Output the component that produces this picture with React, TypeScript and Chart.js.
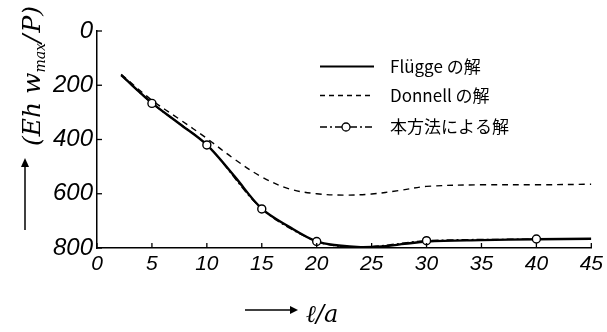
import React, { useEffect, useRef } from "react";
import { Chart, registerables } from "chart.js";
Chart.register(...registerables);

const fluggeX = [2.2, 5, 7.5, 10, 12.5, 15, 17.5, 20, 22, 24, 26, 28, 30, 35, 40, 45];
const fluggeY = [163, 265, 342, 420, 535, 655, 722, 776, 791, 797, 794, 785, 776, 771, 768, 766];
const donnellX = [2.2, 5, 7.5, 10, 12.5, 15, 17.5, 20, 22.5, 25, 27.5, 30, 35, 40, 45];
const donnellY = [160, 255, 325, 396, 472, 538, 582, 600, 605, 601, 588, 573, 567, 567, 565];
const methodX = [2.2, 5, 10, 15, 20, 24, 30, 40, 45];
const methodY = [163, 267, 420, 656, 776, 797, 773, 767, 766];
const methodMarker = [0, 4, 4, 4, 4, 0, 4, 4, 0];
const legendLabels = ["Flügge の解", "Donnell の解", "本方法による解"];
const xTitle = "ℓ/a";

const toPts = (xs: number[], ys: number[]) => xs.map((x, i) => ({ x, y: ys[i] }));

const decorPlugin = {
  id: "decor",
  afterDraw(chart: any) {
    const ctx = chart.ctx;
    const xs = chart.scales.x;
    const ys = chart.scales.y;
    const area = chart.chartArea;
    ctx.save();
    ctx.strokeStyle = "#000";
    ctx.fillStyle = "#000";
    ctx.lineWidth = 1.3;
    xs.ticks.forEach((t: any) => {
      const px = xs.getPixelForValue(t.value);
      ctx.beginPath();
      ctx.moveTo(px, area.bottom);
      ctx.lineTo(px, area.bottom - 5);
      ctx.stroke();
    });
    ys.ticks.forEach((t: any) => {
      const py = ys.getPixelForValue(t.value);
      ctx.beginPath();
      ctx.moveTo(area.left, py);
      ctx.lineTo(area.left + 5, py);
      ctx.stroke();
    });

    const rows = [66.5, 95.5, 127];
    const styles = [
      { w: 2, dash: [] as number[] },
      { w: 1.4, dash: [5, 4] },
      { w: 1.3, dash: [7, 3, 2, 3] },
    ];
    ctx.font = '17px "Noto Sans CJK JP", sans-serif';
    ctx.textBaseline = "middle";
    ctx.textAlign = "left";
    rows.forEach((ry, i) => {
      ctx.lineWidth = styles[i].w;
      ctx.setLineDash(styles[i].dash);
      ctx.beginPath();
      ctx.moveTo(320, ry);
      ctx.lineTo(374, ry);
      ctx.stroke();
      ctx.setLineDash([]);
      if (i === 2) {
        ctx.beginPath();
        ctx.fillStyle = "#fff";
        ctx.arc(346, ry, 4, 0, Math.PI * 2);
        ctx.fill();
        ctx.lineWidth = 1.3;
        ctx.stroke();
        ctx.fillStyle = "#000";
      }
      ctx.fillText(legendLabels[i], 390, ry);
    });

    ctx.lineWidth = 1.5;
    ctx.beginPath();
    ctx.moveTo(245, 310);
    ctx.lineTo(296, 310);
    ctx.stroke();
    ctx.beginPath();
    ctx.moveTo(298, 310);
    ctx.lineTo(290, 306);
    ctx.lineTo(290, 314);
    ctx.closePath();
    ctx.fill();
    ctx.font = 'italic 24px "DejaVu Serif", serif';
    ctx.textBaseline = "alphabetic";
    ctx.fillText(xTitle, 306, 322);

    ctx.beginPath();
    ctx.moveTo(25, 230);
    ctx.lineTo(25, 162);
    ctx.stroke();
    ctx.beginPath();
    ctx.moveTo(25, 158);
    ctx.lineTo(21, 167);
    ctx.lineTo(29, 167);
    ctx.closePath();
    ctx.fill();

    ctx.translate(40, 146);
    ctx.rotate(-Math.PI / 2);
    let cx = 0;
    const big = 'italic 25px "DejaVu Serif", serif';
    const small = 'italic 14px "DejaVu Serif", serif';
    const parts: [string, string, number][] = [
      ["(Eh w", big, 0],
      ["max", small, 5],
      ["/", big, 0],
      ["P)", big, 0],
    ];
    parts.forEach(([s, f, dy]) => {
      ctx.font = f;
      ctx.fillText(s, cx, dy);
      cx += ctx.measureText(s).width + (s === "/" ? 2 : 0);
    });
    ctx.restore();
  },
};

export default function App() {
  const ref = useRef<HTMLCanvasElement>(null);
  useEffect(() => {
    if (!ref.current) return;
    const tickFontX = { family: '"Liberation Sans", sans-serif', size: 21, style: "italic" as const };
    const tickFontY = { family: '"Liberation Sans", sans-serif', size: 24, style: "italic" as const };
    const chart = new Chart(ref.current, {
      type: "line",
      data: {
        datasets: [
          {
            label: legendLabels[1],
            data: toPts(donnellX, donnellY),
            borderColor: "#000",
            borderWidth: 1.4,
            borderDash: [6, 5],
            pointRadius: 0,
            tension: 0.35,
            fill: false,
          },
          {
            label: legendLabels[2],
            data: toPts(methodX, methodY),
            borderColor: "#000",
            borderWidth: 1.3,
            borderDash: [7, 3, 2, 3],
            pointRadius: methodMarker,
            pointBackgroundColor: "#fff",
            pointBorderColor: "#000",
            pointBorderWidth: 1.4,
            tension: 0.3,
            fill: false,
          },
          {
            label: legendLabels[0],
            data: toPts(fluggeX, fluggeY),
            borderColor: "#000",
            borderWidth: 2.4,
            pointRadius: 0,
            tension: 0.35,
            fill: false,
          },
        ],
      },
      options: {
        responsive: false,
        animation: false,
        layout: { padding: { left: 0, right: 15, top: 31, bottom: 0 } },
        plugins: { legend: { display: false }, tooltip: { enabled: false } },
        scales: {
          x: {
            type: "linear",
            min: 0,
            max: 45,
            grid: { display: false, drawTicks: false },
            border: { display: true, color: "#000", width: 1.5 },
            ticks: { stepSize: 5, font: tickFontX, color: "#000", padding: 4, maxRotation: 0, autoSkip: false },
            afterFit: (s: any) => {
              s.height = 84;
            },
          },
          y: {
            type: "linear",
            reverse: true,
            min: 0,
            max: 800,
            grid: { display: false, drawTicks: false },
            border: { display: true, color: "#000", width: 1.5 },
            ticks: { stepSize: 200, font: tickFontY, color: "#000", padding: 4 },
            afterFit: (s: any) => {
              s.width = 97;
            },
          },
        },
      },
      plugins: [decorPlugin],
    } as any);
    return () => chart.destroy();
  }, []);
  return (
    <div style={{ position: "fixed", left: 0, top: 0, width: 607, height: 332, background: "#fff" }}>
      <canvas ref={ref} width={607} height={332} style={{ width: 607, height: 332, display: "block" }} />
    </div>
  );
}
